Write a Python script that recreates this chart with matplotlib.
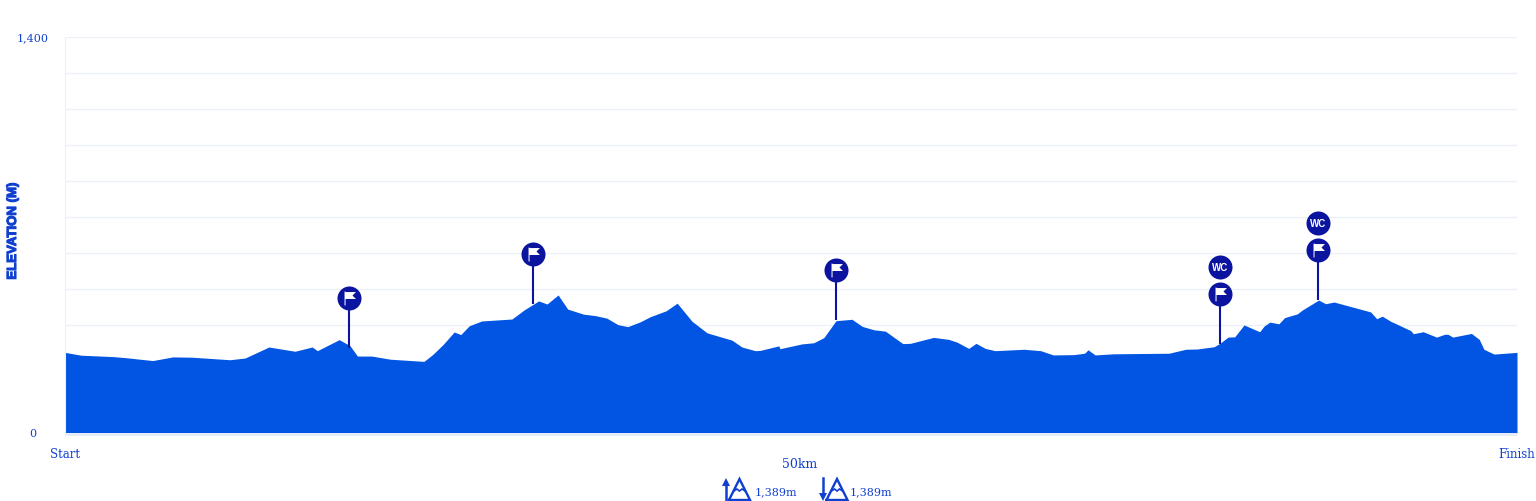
import matplotlib
matplotlib.use("Agg")
import matplotlib.pyplot as plt
import matplotlib.patheffects as pe
import numpy as np
from matplotlib.lines import Line2D
from matplotlib.patches import Polygon, Rectangle
from matplotlib.path import Path

# course profile, km / metres
dist_km = [0, 0.55, 1.66, 2.12, 3.02, 3.71, 4.36, 5.68, 6.20, 7.02, 7.92, 8.51, 8.69, 9.44, 9.81,
           10.07, 10.56, 11.19, 12.36, 12.68, 13.03, 13.40, 13.63, 13.92, 14.35, 15.39, 15.81,
           16.31, 16.60, 16.98, 17.31, 17.86, 18.26, 18.66, 19.04, 19.38, 19.81, 20.15, 20.70,
           21.08, 21.59, 22.11, 22.97, 23.31, 23.77, 23.94, 24.58, 24.62, 25.38, 25.78, 26.13,
           26.55, 27.10, 27.45, 27.85, 28.25, 28.85, 29.11, 29.91, 30.43, 30.72, 31.12, 31.37,
           31.69, 32.03, 33.02, 33.60, 34.03, 34.74, 35.11, 35.23, 35.47, 36.12, 38.02, 38.59,
           38.99, 39.57, 39.77, 40.05, 40.28, 40.60, 41.14, 41.29, 41.49, 41.80, 42.00, 42.43,
           42.61, 43.17, 43.41, 43.70, 44.96, 45.17, 45.36, 45.65, 46.34, 46.43, 46.77, 47.23,
           47.51, 47.62, 47.79, 48.43, 48.70, 48.86, 49.21, 50]
elev_m = [285, 275, 270, 266, 256, 269, 268, 259, 265, 304, 289, 304, 291, 330, 309,
          272, 272, 261, 253, 279, 314, 357, 348, 379, 396, 403, 435,
          467, 456, 488, 438, 420, 415, 406, 383, 376, 393, 411, 432,
          459, 395, 354, 328, 304, 291, 292, 308, 298, 315, 319, 337,
          397, 402, 377, 365, 360, 316, 317, 338, 331, 321, 299, 317,
          299, 291, 296, 291, 276, 277, 282, 294, 276, 280, 282, 296,
          297, 305, 317, 339, 340, 382, 358, 378, 392, 386, 408, 421,
          435, 470, 457, 463, 428, 404, 413, 395, 362, 351, 358, 339,
          349, 349, 339, 352, 331, 296, 279, 285]

pin_km = [9.79, 16.10, 26.56, 39.76, 43.15]
pin_elev = [300, 456, 399, 314, 470]
pin_wc = [False, False, False, True, True]

ascent = "1,389m"
descent = "1,389m"

BLUE = "#0255e2"
DARK = "#0b149e"
TEXT = "#1040d0"
GRID = "#eef0f7"
SERIF = "DejaVu Serif"
SANS = "Liberation Sans"

W, H = 1536, 501
fig = plt.figure(figsize=(W / 100, H / 100), dpi=100)
ax = fig.add_axes([65 / W, (H - 433) / H, (1517 - 65) / W, (433 - 37) / H])


def px(x, y):
    return x / W, 1 - y / H


ax.fill_between(dist_km, elev_m, 0, color=BLUE, lw=0, zorder=2)
ax.set_xlim(0, 50)
ax.set_ylim(0, 1400)

ax.set_yticks(np.linspace(0, 1400, 12))
ax.set_yticklabels(["0"] + [""] * 10 + ["1,400"], fontsize=8, family=SERIF, color=TEXT, ha="center")
ax.set_xticks([])
ax.tick_params(axis="y", length=0, pad=23)
ax.grid(True, axis="y", color=GRID, lw=1, zorder=1)
for s in ["top", "right", "bottom"]:
    ax.spines[s].set_visible(False)
ax.spines["left"].set_color(GRID)

# pale band under the baseline
fig.add_artist(Rectangle(px(65, 436), 1452 / W, 3 / H, transform=fig.transFigure,
                         color="#e6ecf5", lw=0))

# pins
flag = Path([(-5, 7), (-4, 7), (-4, 6.5), (6.5, 6.5), (3, 3), (6.5, -0.5), (-4, -0.5), (-4, -7), (-5, -7), (-5, 7)],
            closed=True)
head_up = 177
wc_up = 95
for km, e, wc in zip(pin_km, pin_elev, pin_wc):
    ax.plot([km, km], [e, e + head_up], color=DARK, lw=1.5, zorder=3, solid_capstyle="butt")
    ax.plot(km, e + head_up, "o", ms=17.3, color=DARK, mew=0, zorder=4)
    ax.plot(km, e + head_up, marker=flag, ms=10, color="white", mew=0, zorder=5)
    if wc:
        ax.plot(km, e + head_up + wc_up, "o", ms=17.3, color=DARK, mew=0, zorder=4)
        ax.text(km, e + head_up + wc_up, "WC", color="white", fontsize=7, fontweight="bold",
                family=SANS, ha="center", va="center_baseline", zorder=5)

# labels around the chart
fig.text(*px(65, 455), "Start", fontsize=8.5, family=SERIF, color=TEXT, ha="center", va="center")
fig.text(*px(1517, 455), "Finish", fontsize=8.5, family=SERIF, color=TEXT, ha="center", va="center")
fig.text(*px(800, 464), "50km", fontsize=9, family=SERIF, color=TEXT, ha="center", va="center")
fig.text(*px(13, 231), "ELEVATION (M)", fontsize=9.5, fontweight="bold", family=SANS, color=TEXT,
         rotation=90, ha="center", va="center",
         path_effects=[pe.withStroke(linewidth=0.8, foreground=TEXT)])
fig.text(*px(755, 492), ascent, fontsize=8, family=SERIF, color=TEXT, ha="left", va="center")
fig.text(*px(850, 492), descent, fontsize=8, family=SERIF, color=TEXT, ha="left", va="center")


def icon_line(xs, ys, lw=1.4):
    fig.add_artist(Line2D([x / W for x in xs], [1 - y / H for y in ys], transform=fig.transFigure,
                          color=TEXT, lw=lw, solid_joinstyle="miter"))


def arrow_head(x0, tip, base):
    pts = [px(x0 - 4, base), px(x0, tip), px(x0 + 4, base)]
    fig.add_artist(Polygon(pts, closed=True, transform=fig.transFigure, color=TEXT, lw=0))


def mountain(x0):
    icon_line([x0, x0 + 10.5, x0 + 21, x0], [500, 479, 500, 500], lw=1.7)
    icon_line([x0 + 5, x0 + 8, x0 + 10.5, x0 + 13, x0 + 16], [491, 489, 491, 489, 491], lw=1.2)


# ascent icon
icon_line([726, 726], [484, 501], lw=1.8)
arrow_head(726, 478, 486)
mountain(729)
# descent icon
icon_line([823, 823], [478, 495], lw=1.8)
arrow_head(823, 501, 493)
mountain(826.5)

fig.savefig("out.png", dpi=100)
